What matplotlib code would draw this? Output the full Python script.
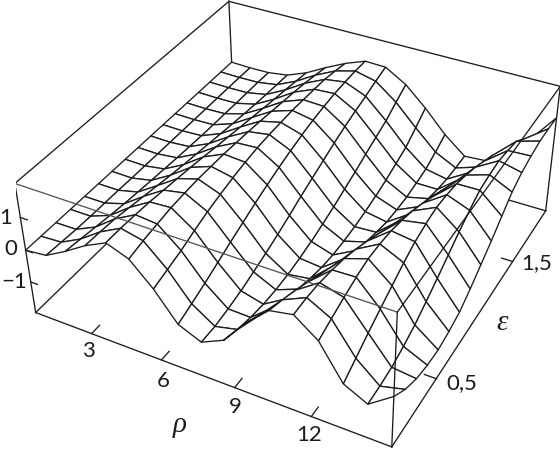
import numpy as np
import matplotlib
matplotlib.use('Agg')
import matplotlib.pyplot as plt

rho = [0.5, 1.41, 2.31, 3.22, 4.13, 5.03, 5.94, 6.84, 7.75, 8.66, 9.56, 10.47, 11.38, 12.28, 13.19, 14.09, 15.0]
eps = [0, 0.125, 0.25, 0.375, 0.5, 0.625, 0.75, 0.875, 1.0, 1.125, 1.25, 1.375, 1.5, 1.625, 1.75, 1.875, 2.0]

# values, one row per eps line
z_vals = [
    [0, .07, .42, .82, 1.13, .88, .22, -.62, -.92, -.60, .18, .80, .93, .42, -.60, -.95, -.43],
    [0, .04, .36, .80, 1.13, .98, .35, -.46, -.92, -.76, -.07, .64, .95, .58, -.34, -.93, -.75],
    [0, .01, .30, .77, 1.11, 1.05, .48, -.29, -.85, -.87, -.32, .46, .92, .73, -.08, -.87, -.95],
    [0, 0, .24, .70, 1.08, 1.12, .65, -.10, -.75, -.93, -.52, .25, .84, .86, .16, -.73, -1.05],
    [0, 0, .19, .63, 1.03, 1.15, .80, .09, -.61, -.94, -.68, .03, .73, .95, .39, -.56, -1.08],
    [0, 0, .15, .56, .98, 1.17, .92, .27, -.47, -.91, -.81, -.19, .57, .95, .62, -.32, -1.0],
    [0, -.01, .12, .49, .93, 1.16, 1.02, .45, -.31, -.84, -.91, -.40, .38, .91, .81, -.07, -.88],
    [0, -.01, .09, .43, .87, 1.15, 1.10, .61, -.13, -.74, -.95, -.58, .17, .80, .92, .20, -.62],
    [0, -.01, .06, .38, .80, 1.12, 1.16, .76, .06, -.61, -.94, -.74, -.06, .67, .99, .47, -.32],
    [0, -.01, .04, .33, .74, 1.09, 1.19, .89, .23, -.47, -.90, -.86, -.28, .49, .96, .70, -.02],
    [0, -.01, .02, .28, .68, 1.05, 1.20, 1.0, .40, -.31, -.83, -.95, -.48, .28, .89, .90, .32],
    [0, -.01, .01, .23, .62, 1.0, 1.21, 1.09, .57, -.15, -.73, -.97, -.65, .07, .76, .97, .65],
    [0, -.01, .01, .19, .56, .95, 1.19, 1.16, .72, .03, -.61, -.96, -.80, -.15, .61, 1.01, .85],
    [0, -.01, 0, .15, .50, .90, 1.17, 1.21, .85, .20, -.46, -.90, -.90, -.36, .41, .94, .97],
    [0, -.01, 0, .12, .45, .84, 1.14, 1.23, .96, .36, -.31, -.83, -.96, -.55, .21, .85, 1.05],
    [0, -.01, 0, .10, .39, .76, 1.07, 1.24, 1.09, .60, -.04, -.65, -.98, -.75, -.12, .55, 1.06],
    [0, -.02, -.01, .08, .33, .67, .98, 1.22, 1.20, .82, .24, -.44, -.97, -.92, -.45, .20, 1.04],
]
rho_ticks = [3, 6, 9, 12]
eps_ticks = [0.5, 1.5]
z_ticks = [-1, 0, 1]

W, H = 560, 449
fig = plt.figure(figsize=(W / 100, H / 100), dpi=100)
ax = fig.add_axes([0.0280, -0.0766, 0.9917, 1.2369], projection='3d')
ax.set_xlim(0.5, 15)
ax.set_ylim(0, 2)
ax.set_zlim(-2, 2)
ax.view_init(elev=36.634, azim=-61.447, roll=0.694)
ax.set_proj_type('persp', focal_length=0.471)
ax.set_box_aspect((2.461, 2.464, 1))
ax.set_axis_off()
ax.computed_zorder = False

ink = '#1c1c1c'
R, E = np.meshgrid(rho, eps)
Z = np.array(z_vals)


def edge(a, b, zo=1, color=ink):
    ax.plot([a[0], b[0]], [a[1], b[1]], [a[2], b[2]], color=color, lw=0.95, zorder=zo)


rmin, rmax = rho[0], rho[-1]
# back of the box
edge((rmin, 2, 2), (rmax, 2, 2))
edge((rmin, 2, 2), (rmin, 2, -2))
edge((rmax, 2, 2), (rmax, 2, -2))
edge((rmin, 0, -2), (rmin, 2, -2))
edge((rmin, 2, -2), (rmax, 2, -2))
edge((rmin, 0, 2), (rmin, 2, 2))
surf = ax.plot_surface(R, E, Z, rstride=1, cstride=1, color='white', edgecolor=ink,
                       linewidth=0.95, shade=False, zorder=2)
surf.set_joinstyle('round')
# front of the box
edge((rmin, 0, 2), (rmin, 0, -2), 3)
edge((rmin, 0, 2), (rmax, 0, 2), 3, '#555555')
edge((rmax, 0, 2), (rmax, 2, 2), 3)
edge((rmax, 0, 2), (rmax, 0, -2), 3)
edge((rmin, 0, -2), (rmax, 0, -2), 3)
edge((rmax, 0, -2), (rmax, 2, -2), 3)

for t in rho_ticks:
    edge((t, 0, -2), (t, 0.07, -2), 3)
for t in eps_ticks:
    edge((rmax, t, -2), (rmax - 0.45, t, -2), 3)
for t in z_ticks:
    edge((rmin, 0, t), (rmin + 0.3, 0, t), 3)

labels = [('3', 88, 351), ('6', 163, 381), ('9', 235, 407), ('12', 309, 435),
          ('0,5', 462, 383), ('1,5', 537, 263), ('1', 6, 218), ('0', 11, 249), ('\u22121', 14, 282)]
for txt, lx, ly in labels:
    fig.text(lx / W, 1 - ly / H, txt, fontsize=16, family='Lato', color=ink, ha='center', va='center')
fig.text(180 / W, 1 - 425 / H, '\u03c1', fontsize=21, family='Liberation Serif', style='italic', color=ink, ha='center', va='center')
fig.text(502 / W, 1 - 323 / H, '\u03b5', fontsize=21, family='Liberation Serif', style='italic', color=ink, ha='center', va='center')

fig.savefig('out.png', dpi=100)
